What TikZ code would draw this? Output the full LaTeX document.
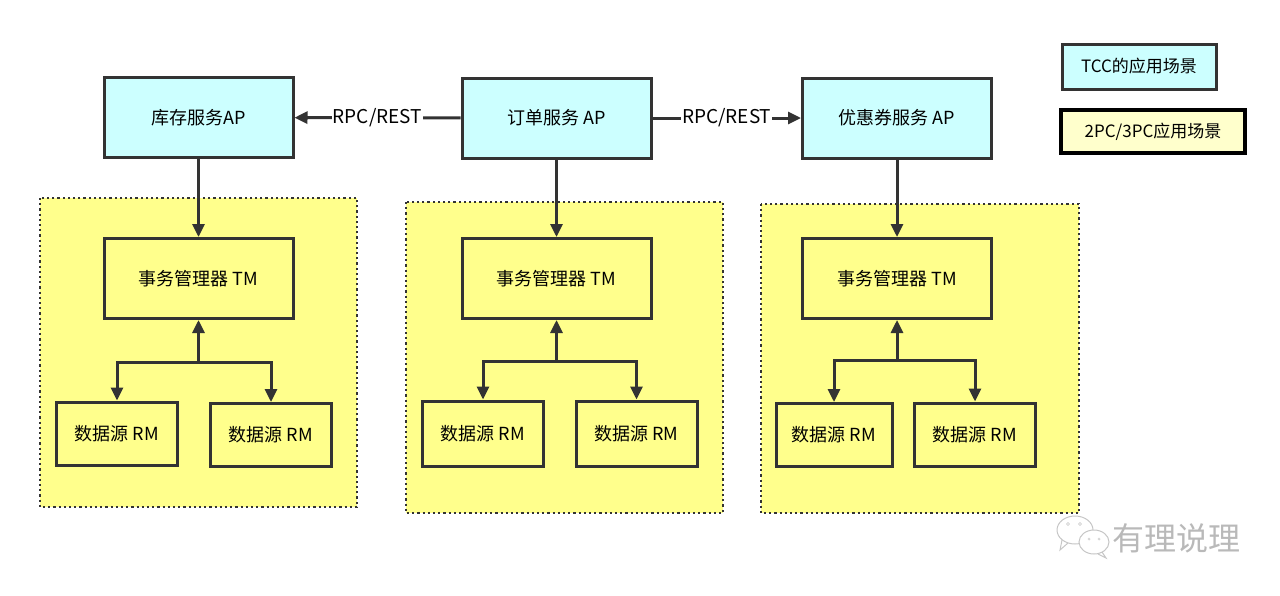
\documentclass[tikz,border=0pt]{standalone}
\usepackage{fontspec}
\setmainfont{Noto Sans CJK SC}
\usetikzlibrary{arrows.meta}

\definecolor{apcyan}{HTML}{CCFFFF}
\definecolor{zoneyellow}{HTML}{FFFF8C}
\definecolor{legyellow}{HTML}{FFFFCC}
\definecolor{linegray}{HTML}{333333}

\begin{document}
\begin{tikzpicture}[x=1pt,y=-1pt,font=\fontsize{18}{21}\selectfont,
  box/.style={draw=linegray,line width=3pt,minimum width=189pt,minimum height=80pt,inner sep=0pt},
  apbox/.style={box,fill=apcyan},
  rmbox/.style={box,minimum width=121pt,minimum height=63pt},
  zone/.style={draw=linegray,line width=2.2pt,dash pattern=on 2.2pt off 3pt,fill=zoneyellow},
  conn/.style={draw=linegray,line width=3pt},
  arr/.style={conn,-{Triangle[length=13pt,width=12pt]}}]

\useasboundingbox (0,0) rectangle (1280,595);

% yellow 2PC/3PC zones
\draw[zone] (40,198) rectangle (357,507);
\draw[zone] (406,202) rectangle (723,513);
\draw[zone] (761,204) rectangle (1079,513);

% AP boxes
\node[apbox] (ap1) at (198.5,117.5) {库存服务AP};
\node[apbox] (ap2) at (556.5,118) {订单服务 AP};
\node[apbox] (ap3) at (897,118) {优惠券服务 AP};

% TM boxes
\node[box] (tm1) at (198.5,278.5) {事务管理器 TM};
\node[box] (tm2) at (556.5,278.5) {事务管理器 TM};
\node[box] (tm3) at (897,278.5) {事务管理器 TM};

% RM boxes
\node[rmbox] (rm1a) at (117,433.5) {数据源 RM};
\node[rmbox] (rm1b) at (271,435) {数据源 RM};
\node[rmbox,minimum height=65pt] (rm2a) at (483,433.5) {数据源 RM};
\node[rmbox,minimum height=65pt] (rm2b) at (636.5,433.5) {数据源 RM};
\node[rmbox,minimum width=116pt] (rm3a) at (834,435) {数据源 RM};
\node[rmbox] (rm3b) at (975,434.5) {数据源 RM};

\coordinate (j1) at (198.5,362);
\coordinate (j2) at (556.5,361);
\coordinate (j3) at (897,360);

% calls between services
\draw[arr] (ap2) -- node[fill=white,inner sep=1pt,font=\fontsize{19}{22}\selectfont] (rpc1) {RPC/REST} (ap1);
\draw[arr] (ap2) -- node[fill=white,inner sep=1pt,font=\fontsize{19}{22}\selectfont] (rpc2) {RPC/REST} (ap3);

% AP -> TM
\draw[arr] (ap1) -- (tm1);
\draw[arr] (ap2) -- (tm2);
\draw[arr] (ap3) -- (tm3);

% TM <-> RM
\draw[arr] (j1) -- (tm1);
\draw[arr] (j1) -| (rm1a);
\draw[arr] (j1) -| (rm1b);
\draw[arr] (j2) -- (tm2);
\draw[arr] (j2) -| (rm2a);
\draw[arr] (j2) -| (rm2b);
\draw[arr] (j3) -- (tm3);
\draw[arr] (j3) -| (rm3a);
\draw[arr] (j3) -| (rm3b);

% legend
\node[apbox,minimum width=154pt,minimum height=45pt,font=\fontsize{17}{20}\selectfont] (legtcc) at (1139,66.5) {TCC的应用场景};
\node[box,draw=black,line width=3.5pt,fill=legyellow,minimum width=184pt,minimum height=43pt,font=\fontsize{17}{20}\selectfont] (leg2pc) at (1153,131.5) {2PC/3PC应用场景};

% watermark
\draw[gray!45,line width=1pt,fill=white] (1075,530) ellipse (18 and 14);
\draw[gray!45,line width=1pt] (1062,540) -- (1060,550) -- (1068,543);
\draw[gray!45,line width=1pt,fill=white] (1094,542) ellipse (15 and 12);
\draw[gray!45,line width=1pt] (1102,552) -- (1106,558) -- (1098,554);
\draw[gray!45] (1068,524) circle (1.5) (1080,524) circle (1.5) (1089,539) circle (1.2) (1099,539) circle (1.2);
\node[text=gray!55,font=\fontsize{32}{36}\selectfont] (mark) at (1176,538) {有理说理};

\end{tikzpicture}
\end{document}
